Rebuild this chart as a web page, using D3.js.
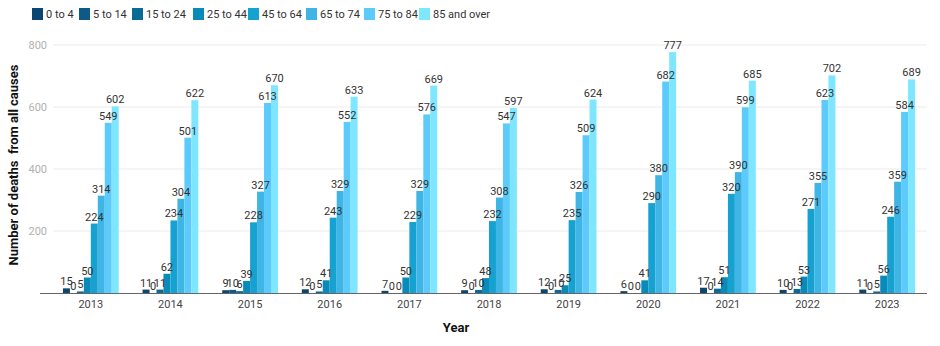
<!DOCTYPE html>
<html><head><meta charset="utf-8">
<script src="https://cdn.jsdelivr.net/npm/d3@7"></script>
<style>body{margin:0;background:#fff;font-family:Roboto, "Noto Sans", sans-serif;}</style>
</head><body><svg id="c" width="940" height="346"></svg>
<script>
const years = ["2013","2014","2015","2016","2017","2018","2019","2020","2021","2022","2023"];
const groups = ["0 to 4","5 to 14","15 to 24","25 to 44","45 to 64","65 to 74","75 to 84","85 and over"];
const colors = ["#0b4670","#0c5a85","#0a6b95","#0a8ab8","#16a2d0","#3eb5e5","#5ccbfb","#7ee6fe"];
const age0to4   = [15,11,9,12,7,9,12,6,17,10,11];
const age5to14  = [0,0,10,0,0,0,0,0,0,0,0];
const age15to24 = [5,11,6,5,0,10,10,0,14,13,5];
const age25to44 = [50,62,39,41,50,48,25,41,51,53,56];
const age45to64 = [224,234,228,243,229,232,235,290,320,271,246];
const age65to74 = [314,304,327,329,329,308,326,380,390,355,359];
const age75to84 = [549,501,613,552,576,547,509,682,599,623,584];
const age85plus = [602,622,670,633,669,597,624,777,685,702,689];
const yTicks = [200,400,600,800];
const series = [age0to4,age5to14,age15to24,age25to44,age45to64,age65to74,age75to84,age85plus];

const svg = d3.select("#c");
const x0 = d3.scaleBand().domain(years).range([51,927]).paddingInner(0.3).paddingOuter(0.15);
const x1 = d3.scaleBand().domain(groups).range([0, x0.bandwidth()]);
const y = d3.scaleLinear().domain([0,800]).range([293,45]);

// grid
svg.append("g").selectAll("line").data(yTicks).join("line")
  .attr("x1",53).attr("x2",927).attr("y1",d=>y(d)).attr("y2",d=>y(d))
  .attr("stroke","#ebebeb").attr("stroke-width",1);
svg.append("g").selectAll("text").data(yTicks).join("text")
  .attr("x",47).attr("y",d=>y(d)).attr("dy","0.35em").attr("text-anchor","end")
  .attr("font-size",11).attr("fill","#b0b0b0").text(d=>d);

// bars
const g = svg.append("g");
years.forEach((yr,i)=>{
  groups.forEach((grp,j)=>{
    const v = series[j][i];
    const bx = x0(yr)+x1(grp);
    g.append("rect").attr("x",bx).attr("y",y(v)).attr("width",x1.bandwidth()).attr("height",y(0)-y(v)).attr("fill",colors[j]);
  });
});
years.forEach((yr,i)=>{
  groups.forEach((grp,j)=>{
    const v = series[j][i];
    const bx = x0(yr)+x1(grp)+x1.bandwidth()/2;
    g.append("text").attr("x",bx).attr("y",y(v)-3).attr("text-anchor","middle")
      .attr("font-size",11).attr("fill","#333").text(v);
  });
});

// x axis
svg.append("line").attr("x1",40).attr("x2",927).attr("y1",293.5).attr("y2",293.5).attr("stroke","#666").attr("stroke-width",1);
svg.append("g").selectAll("text").data(years).join("text")
  .attr("x",d=>x0(d)+x0.bandwidth()/2).attr("y",308).attr("text-anchor","middle")
  .attr("font-size",11).attr("fill","#444").text(d=>d);

svg.append("text").attr("x",456).attr("y",332).attr("text-anchor","middle")
  .attr("font-size",13).attr("font-weight","bold").attr("fill","#111").text("Year");
svg.append("text").attr("transform","translate(18,165) rotate(-90)").attr("text-anchor","middle")
  .attr("font-size",13).attr("font-weight","bold").attr("fill","#111").attr("xml:space","preserve")
  .style("white-space","pre").text("Number of deaths  from all causes");

// legend
const legX = [32,79,132,193,248,306,364,419];
const lg = svg.append("g");
groups.forEach((grp,j)=>{
  lg.append("rect").attr("x",legX[j]).attr("y",8).attr("width",11).attr("height",12).attr("fill",colors[j]);
  lg.append("text").attr("x",legX[j]+14).attr("y",14).attr("dy","0.35em").attr("font-size",11).attr("fill","#333").text(grp);
});
</script></body></html>
